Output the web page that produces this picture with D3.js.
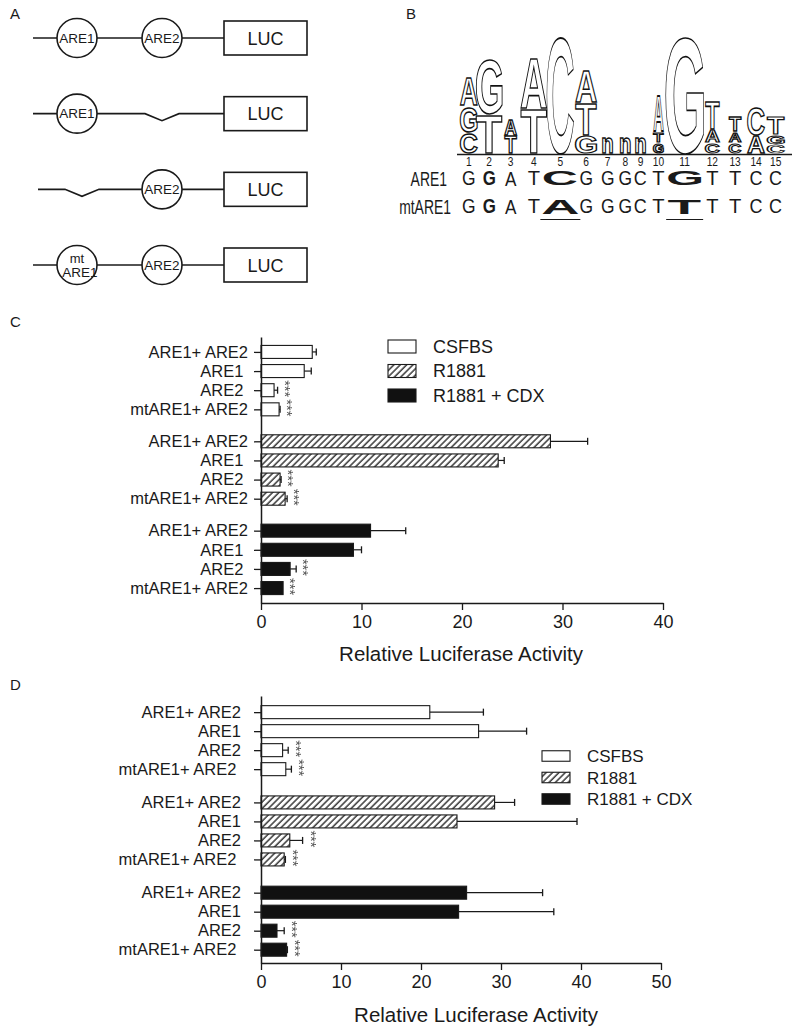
<!DOCTYPE html>
<meta charset="utf-8">
<style>
  body { margin: 0; background: #fff; }
  svg text { font-family: "Liberation Sans", Arial, Helvetica, sans-serif; }
</style>
<body>
<svg id="fig" width="800" height="1033"></svg>
<script src="https://d3js.org/d3.v7.min.js"></script>
<script>
// ---- panel A: reporter constructs ----
var constructs = [
  ["ARE1", "ARE2"],
  ["ARE1", "del"],
  ["del", "ARE2"],
  ["mtARE1", "ARE2"]
];

// ---- panel B: sequence logo (letter stacks, bottom to top, heights in bits) ----
var logoNumbers = d3.range(1, 16);
var logoSlot = [19.5, 21.5, 21.5, 25, 28, 23.5, 19.5, 16, 14.5, 21.5, 31, 24.5, 21, 21, 18.5];
var logoInk = [17, 26, 12, 26, 27, 21, 10, 10, 10, 10, 38, 14, 12, 17, 17];
var logoStacks = [
  [["C", 0.36], ["G", 0.46], ["A", 0.50]],
  [["T", 0.67], ["G", 0.94]],
  [["T", 0.31], ["A", 0.29]],
  [["T", 0.77], ["A", 0.87]],
  [["C", 2.0]],
  [["G", 0.31], ["T", 0.56], ["A", 0.56]],
  [["n", 0.29]],
  [["n", 0.29]],
  [["n", 0.29]],
  [["G", 0.19], ["T", 0.19], ["A", 0.62]],
  [["G", 2.0]],
  [["C", 0.19], ["A", 0.22], ["T", 0.50]],
  [["C", 0.19], ["A", 0.19], ["T", 0.26]],
  [["A", 0.31], ["C", 0.50]],
  [["C", 0.15], ["G", 0.17], ["T", 0.32]]
];
var seqARE1 = "GGATCGGGCTGTTCC";
var seqMtARE1 = "GGATAGGGCTTTTCC";
var seqWide = [5, 11];

// ---- panels C and D: luciferase activity ----
var treatments = ["CSFBS", "R1881", "R1881 + CDX"];
var cNames = ["ARE1+ ARE2", "ARE1 ", "ARE2 ", "mtARE1+ ARE2"];
var dNames = ["ARE1+ ARE2", "ARE1", "ARE2", "mtARE1+ ARE2 "];

var cCSFBS = [5.1, 4.3, 1.3, 1.8],   cCSFBSse = [0.4, 0.7, 0.35, 0.1];
var cR1881 = [28.8, 23.6, 1.9, 2.4], cR1881se = [3.7, 0.6, 0.1, 0.2];
var cCDX   = [10.9, 9.2, 2.9, 2.2],  cCDXse   = [3.5, 0.8, 0.6, 0];
var cSig   = [0, 0, 1, 1];
var cTicks = [0, 10, 20, 30, 40];

var dCSFBS = [21.1, 27.2, 2.7, 3.1], dCSFBSse = [6.7, 6.0, 0.7, 0.7];
var dR1881 = [29.2, 24.5, 3.6, 2.9], dR1881se = [2.5, 15.0, 1.6, 0.15];
var dCDX   = [25.7, 24.7, 2.0, 3.2], dCDXse   = [9.5, 11.9, 0.9, 0.1];
var dSig   = [0, 0, 1, 1];
var dTicks = [0, 10, 20, 30, 40, 50];

var INK = "#1a1a1a";
var svg = d3.select("#fig");
var defs = svg.append("defs");
var hatch = defs.append("pattern").attr("id", "hatch")
  .attr("patternUnits", "userSpaceOnUse").attr("width", 4.5).attr("height", 4.5)
  .attr("patternTransform", "rotate(45)");
hatch.append("rect").attr("width", 4.5).attr("height", 4.5).attr("fill", "#fff");
hatch.append("line").attr("x1", 1).attr("y1", 0).attr("x2", 1).attr("y2", 4.5)
  .attr("stroke", INK).attr("stroke-width", 1.3);
// greyscale filter for the small rotated stars
defs.append("filter").attr("id", "grey").attr("x", "-50%").attr("y", "-50%").attr("width", "200%").attr("height", "200%")
  .append("feColorMatrix").attr("type", "saturate").attr("values", 0);
var fills = ["#fff", "url(#hatch)", "#111"];

// panel letters
[["A", 10, 19], ["B", 406, 19], ["C", 10, 327], ["D", 10, 690]].forEach(function (p) {
  svg.append("text").attr("x", p[1]).attr("y", p[2]).attr("font-size", 15).attr("fill", INK).text(p[0]);
});

// glyph scaled to fill a box, using canvas ink metrics
var mctx = document.createElement("canvas").getContext("2d");
function glyph(parent, ch, cx, w, yTop, yBot, opt) {
  var weight = opt.weight || "normal";
  mctx.font = weight + " 100px 'Liberation Sans'";
  var m = mctx.measureText(ch);
  var L = m.actualBoundingBoxLeft, R = m.actualBoundingBoxRight;
  var A = m.actualBoundingBoxAscent, D = m.actualBoundingBoxDescent;
  var sx = w / (L + R), sy = (yBot - yTop) / (A + D);
  var tx = cx - w / 2 + L * sx, ty = yBot - D * sy;
  return parent.append("text")
    .attr("transform", "translate(" + tx + "," + ty + ") scale(" + sx + "," + sy + ")")
    .style("font-family", "'Liberation Sans'")
    .style("font-weight", weight)
    .style("font-size", "100px")
    .style("fill", opt.fill)
    .style("stroke", opt.stroke || "none")
    .style("stroke-width", opt.sw || 0)
    .attr("vector-effect", "non-scaling-stroke")
    .text(ch);
}

// ================= Panel A =================
(function () {
  var g = svg.append("g");
  var rowY = d3.scalePoint().domain(d3.range(constructs.length)).range([38, 265]);
  var elX = d3.scalePoint().domain([0, 1]).range([77, 162]);
  var boxL = 224, boxR = 307, r = 20;
  constructs.forEach(function (c, k) {
    var y = rowY(k);
    var pts = [[c[0] === "del" ? 38 : 33, y]];
    c.forEach(function (el, i) {
      if (el === "del") {
        var cx = elX(i) + (i === 0 ? 5 : 0);
        pts.push([cx - 17, y], [cx, y + 7], [cx + 17, y]);
      }
    });
    pts.push([boxL, y]);
    g.append("path").attr("d", d3.line()(pts)).attr("fill", "none")
      .attr("stroke", INK).attr("stroke-width", 1.6);
    c.forEach(function (el, i) {
      if (el === "del") return;
      var cx = elX(i);
      g.append("ellipse").attr("cx", cx).attr("cy", y).attr("rx", r).attr("ry", r - 0.5)
        .attr("fill", "#fff").attr("stroke", INK).attr("stroke-width", 1.6);
      if (el === "mtARE1") {
        g.append("text").attr("x", cx).attr("y", y - 2).attr("text-anchor", "middle")
          .attr("font-size", 13).attr("fill", INK).text("mt");
        g.append("text").attr("x", cx + 3).attr("y", y + 11.5).attr("text-anchor", "middle")
          .attr("font-size", 13.5).attr("fill", INK).text("ARE1");
      } else {
        g.append("text").attr("x", cx).attr("y", y + 4.8).attr("text-anchor", "middle")
          .attr("font-size", 13.5).attr("fill", INK).text(el);
      }
    });
    g.append("rect").attr("x", boxL).attr("y", y - 17).attr("width", boxR - boxL).attr("height", 34)
      .attr("fill", "#fff").attr("stroke", INK).attr("stroke-width", 1.6);
    g.append("text").attr("x", (boxL + boxR) / 2).attr("y", y + 6.5).attr("text-anchor", "middle")
      .attr("font-size", 18).attr("fill", INK).text("LUC");
  });
})();

// ================= Panel B =================
(function () {
  var g = svg.append("g");
  var edges = [0];
  logoSlot.forEach(function (w, i) { edges.push(edges[i] + w); });
  var lx = d3.scaleLinear().domain([0, d3.sum(logoSlot)]).range([459, 785]);
  var colX = function (i) { return lx((edges[i] + edges[i + 1]) / 2); };
  var yBits = d3.scaleLinear().domain([0, 2]).range([154, 37]);

  logoStacks.forEach(function (stack, i) {
    var cum = 0;
    stack.forEach(function (s) {
      var yb = yBits(cum) - 0.8, yt = yBits(cum + s[1]) + 0.8;
      glyph(g, s[0], colX(i), logoInk[i], yt, yb, { weight: "bold", fill: "#fff", stroke: "#111", sw: 1.3 });
      cum += s[1];
    });
  });
  g.append("line").attr("x1", 457).attr("x2", 792).attr("y1", 154.5).attr("y2", 154.5)
    .attr("stroke", INK).attr("stroke-width", 1.6);
  logoNumbers.forEach(function (n, i) {
    g.append("text").attr("transform", "translate(" + colX(i) + ",165.5) scale(0.85,1)")
      .attr("text-anchor", "middle").attr("font-size", 12).attr("fill", INK).text(n);
  });

  var rows = [[seqARE1, "ARE1", 185.5, 447], [seqMtARE1, "mtARE1", 213.5, 451]];
  rows.forEach(function (row, k) {
    g.append("text").attr("transform", "translate(" + row[3] + "," + row[2] + ") scale(0.68,1)")
      .attr("text-anchor", "end").attr("font-size", 20.5).attr("fill", INK).text(row[1]);
    row[0].split("").forEach(function (ch, i) {
      var wide = seqWide.indexOf(i + 1) >= 0;
      var w = wide ? (k === 1 && i === 4 ? 36 : 33) : 11.5;
      glyph(g, ch, colX(i), w, row[2] - 14.5, row[2],
        { weight: (wide || i === 1) ? "bold" : "normal", fill: INK });
      if (wide && k === 1) {
        g.append("line").attr("x1", colX(i) - w / 2 - 2).attr("x2", colX(i) + w / 2 + 2)
          .attr("y1", row[2] + 6).attr("y2", row[2] + 6).attr("stroke", INK).attr("stroke-width", 1.2);
      }
    });
  });
})();

// ================= Panels C, D =================
function barPanel(o) {
  var g = svg.append("g");
  var n = o.names.length;
  var rows = [];
  o.series.forEach(function (s, gi) {
    s.mean.forEach(function (v, i) {
      rows.push({ slot: gi * (n + o.gap) + i, i: i, v: v, e: s.err[i], sig: o.sig[i], fill: fills[gi] });
    });
  });
  var last = d3.max(rows, function (d) { return d.slot; });
  var y = d3.scaleLinear().domain([-o.padTop, last + o.padBot]).range([o.top, o.bottom]);
  var x = d3.scaleLinear().domain([0, o.max]).range([o.left, o.right]);
  var bh = 13;

  g.selectAll("rect.bar").data(rows).join("rect").attr("class", "bar")
    .attr("x", x(0)).attr("y", function (d) { return y(d.slot) - bh / 2; })
    .attr("width", function (d) { return x(d.v) - x(0); }).attr("height", bh)
    .attr("fill", function (d) { return d.fill; }).attr("stroke", INK).attr("stroke-width", 1.1);

  var eb = rows.filter(function (d) { return d.e > 0; });
  g.selectAll("line.err").data(eb).join("line").attr("class", "err")
    .attr("x1", function (d) { return x(d.v); }).attr("x2", function (d) { return x(d.v + d.e); })
    .attr("y1", function (d) { return y(d.slot); }).attr("y2", function (d) { return y(d.slot); })
    .attr("stroke", INK).attr("stroke-width", 1.2);
  g.selectAll("line.cap").data(eb).join("line").attr("class", "cap")
    .attr("x1", function (d) { return x(d.v + d.e); }).attr("x2", function (d) { return x(d.v + d.e); })
    .attr("y1", function (d) { return y(d.slot) - 3.5; }).attr("y2", function (d) { return y(d.slot) + 3.5; })
    .attr("stroke", INK).attr("stroke-width", 1.3);

  // significance stars
  g.append("g").attr("filter", "url(#grey)")
    .selectAll("text.star").data(rows.filter(function (d) { return d.sig; })).join("text").attr("class", "star")
    .attr("transform", function (d) {
      return "translate(" + (x(d.v + d.e) + o.starOff) + "," + (y(d.slot) - 1.5) + ") rotate(90)";
    })
    .attr("text-anchor", "middle").attr("dy", "0.55em").attr("font-size", 14.5)
    .style("fill", "#555").text("***");

  var yAxis = g.append("g").attr("transform", "translate(" + x(0) + ",0)")
    .call(d3.axisLeft(y).tickValues(rows.map(function (d) { return d.slot; }))
      .tickFormat(function (d, k) { return o.names[rows[k].i]; })
      .tickSize(7).tickSizeOuter(0).tickPadding(o.labelPad));
  yAxis.selectAll("text").style("white-space", "pre");

  var xAxis = g.append("g").attr("transform", "translate(0," + o.bottom + ")")
    .call(d3.axisBottom(x).tickValues(o.ticks).tickSize(7).tickSizeOuter(0).tickPadding(5));

  [yAxis, xAxis].forEach(function (ax) {
    ax.attr("font-family", null).style("color", INK);
    ax.select(".domain").attr("stroke-width", 1.5);
    ax.selectAll(".tick line").attr("stroke-width", 1.3);
  });
  yAxis.attr("font-size", 16.5);
  xAxis.attr("font-size", 18);

  g.append("text").attr("x", o.titleX).attr("y", o.titleY).attr("text-anchor", "middle")
    .attr("font-size", 20.5).attr("fill", INK).text("Relative Luciferase Activity");

  treatments.forEach(function (t, k) {
    var ly = o.legY + k * o.legStep;
    g.append("rect").attr("x", o.legX).attr("y", ly - o.legH / 2).attr("width", o.legW).attr("height", o.legH)
      .attr("fill", fills[k]).attr("stroke", INK).attr("stroke-width", 1.1);
    g.append("text").attr("x", o.legTextX).attr("y", ly).attr("dy", "0.36em")
      .attr("font-size", o.legFont).attr("fill", INK).text(t);
  });
}

barPanel({
  names: cNames, sig: cSig,
  series: [{ mean: cCSFBS, err: cCSFBSse }, { mean: cR1881, err: cR1881se }, { mean: cCDX, err: cCDXse }],
  top: 337, bottom: 603, padTop: 0.78, padBot: 0.78, gap: 0.67,
  left: 261, right: 663, max: 40, ticks: cTicks, labelPad: 6, starOff: 10,
  legX: 388, legY: 346.5, legStep: 24.5, legW: 28, legH: 13, legFont: 18, legTextX: 433,
  titleX: 461, titleY: 661
});

barPanel({
  names: dNames, sig: dSig,
  series: [{ mean: dCSFBS, err: dCSFBSse }, { mean: dR1881, err: dR1881se }, { mean: dCDX, err: dCDXse }],
  top: 696, bottom: 963, padTop: 0.85, padBot: 0.7, gap: 0.75,
  left: 261, right: 661, max: 50, ticks: dTicks, labelPad: 13, starOff: 11,
  legX: 542, legY: 756, legStep: 21.5, legW: 28, legH: 10.5, legFont: 17, legTextX: 587,
  titleX: 476, titleY: 1021.5
});
</script>
</body>
